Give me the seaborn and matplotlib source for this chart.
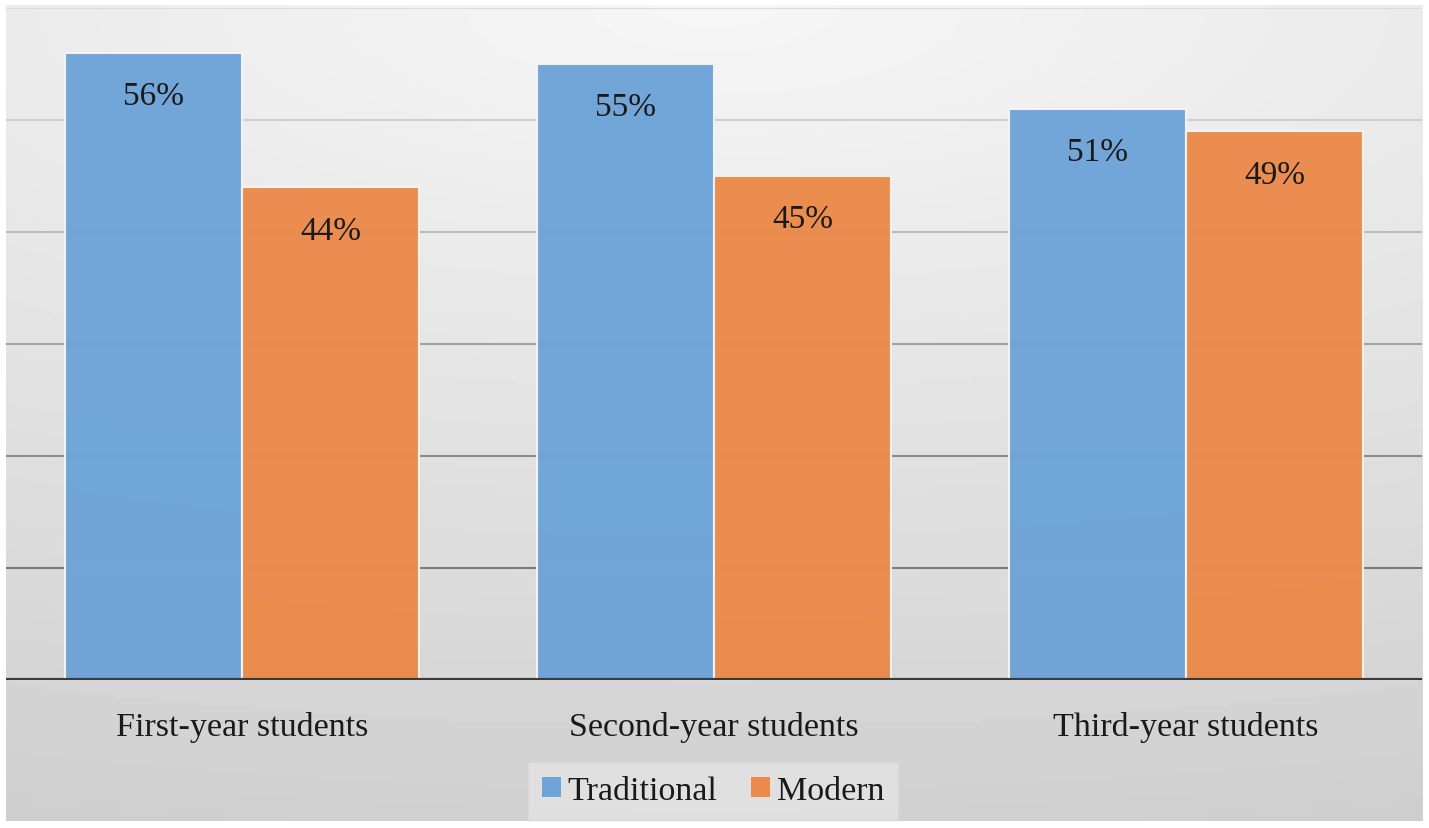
import numpy as np
import pandas as pd
import seaborn as sns
import matplotlib.pyplot as plt

# datos del grafico
grupos = ["First-year students", "Second-year students", "Third-year students"]
metodos = ["Traditional", "Modern"]
traditional = [56, 55, 51]
modern = [44, 45, 49]

df = pd.DataFrame({
    "grupo": grupos * 2,
    "metodo": [metodos[0]] * 3 + [metodos[1]] * 3,
    "valor": traditional + modern,
})

sns.set_theme(style="white")
plt.rcParams["font.family"] = ["Liberation Serif", "DejaVu Serif"]

W, H = 1429, 829
fig = plt.figure(figsize=(W / 100, H / 100), dpi=100)
fig.patch.set_facecolor("white")

# fondo con degradado gris (claro arriba al centro, mas oscuro abajo)
bg = fig.add_axes([6 / W, 1 - 822 / H, 1417 / W, 816 / H])
yy, xx = np.mgrid[0:1:200j, 0:1:300j]
dist = np.sqrt(((xx - 0.5) * 0.6) ** 2 + yy ** 2)
gris = 0.965 - 0.15 * dist
bg.imshow(gris, cmap="gray", vmin=0, vmax=1, aspect="auto", extent=[0, 1, 1, 0])
bg.set_axis_off()

ax = fig.add_axes([6 / W, 1 - 681 / H, 1416 / W, 672 / H])
ax.set_facecolor("none")

paleta = {"Traditional": "#6EA4D8", "Modern": "#EC8A4B"}
sns.barplot(data=df, x="grupo", y="valor", hue="metodo", palette=paleta,
            saturation=1, width=0.75, gap=0, edgecolor="#f4f4f4", linewidth=1.5,
            alpha=0.97, ax=ax, zorder=3)

for cont in ax.containers:
    ax.bar_label(cont, labels=[f"{v:.0f}%" for v in cont.datavalues],
                 padding=-42, fontsize=24, color="#1a1a1a")

ax.set_xlim(-0.5, 2.5)
ax.set_ylim(0, 60)
ax.set_yticks(range(0, 61, 10))
ax.set_yticklabels([])
ax.yaxis.grid(True, linewidth=1.5)
colores_grid = ["#404040", "#7a7a7a", "#8c8c8c", "#a3a3a3", "#bcbcbc", "#cfcfcf", "#dcdcdc"]
for linea, c in zip(ax.get_ygridlines(), colores_grid):
    linea.set_color(c)
ax.set_axisbelow(True)
ax.axhline(0, color="#3a3a3a", linewidth=3, zorder=4)

for s in ax.spines.values():
    s.set_visible(False)
ax.tick_params(axis="x", length=0, pad=22, labelsize=24.5, labelcolor="#1a1a1a")
ax.tick_params(axis="y", length=0)
ax.set_xlabel("")
ax.set_ylabel("")

ax.legend_.remove()
handles, labels = ax.get_legend_handles_labels()
leg = fig.legend(handles, labels, loc="center", ncol=2,
                 bbox_to_anchor=(713 / W, 1 - 792 / H), fontsize=24.5,
                 frameon=True, facecolor="#e4e4e4", edgecolor="#d8d8d8",
                 fancybox=False, handlelength=0.55, handleheight=0.55,
                 handletextpad=0.2, columnspacing=1.0, borderpad=0.4,
                 borderaxespad=0)
leg.get_frame().set_linewidth(1)
for h in leg.legend_handles:
    h.set_edgecolor("none")
    h.set_alpha(1)
for t in leg.get_texts():
    t.set_color("#1a1a1a")

fig.savefig("out.png", dpi=100)
